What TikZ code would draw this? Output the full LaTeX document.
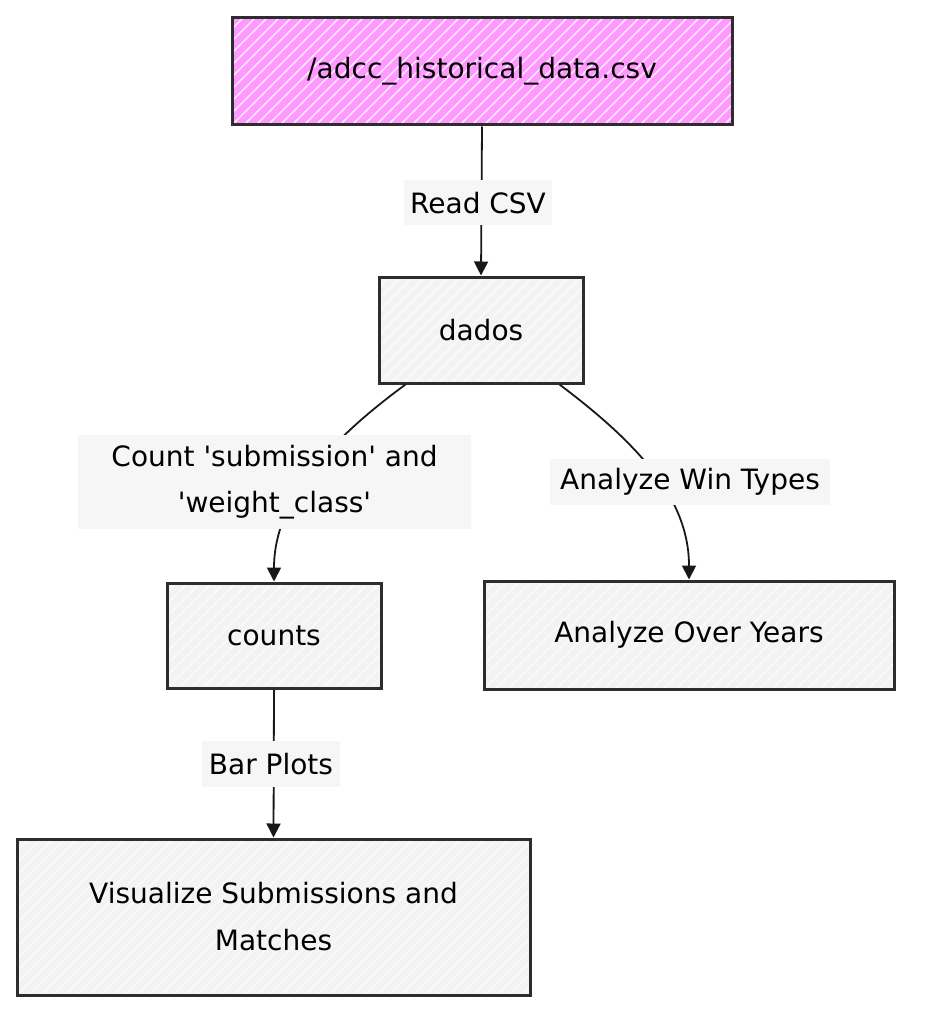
\documentclass[tikz,border=0pt]{standalone}
\usepackage{fontspec}
\newfontfamily\djv{DejaVu Sans}
\usetikzlibrary{arrows.meta,calc}
\definecolor{pinkfill}{RGB}{255,153,255}
\definecolor{grayfill}{RGB}{243,243,243}
\definecolor{labelbg}{RGB}{246,246,246}
\definecolor{ink}{RGB}{45,45,45}
\tikzset{
  hach/.style={path picture={
    \foreach \i in {-15,...,60}{
      \draw[white,line width=1.1pt,opacity=#1]
        ($(path picture bounding box.south west)+(\i*12pt,0)$) -- ++(220pt,220pt);}}},
  box/.style={draw=ink,line width=3pt,fill=grayfill,hach=0.7,align=center,
    font=\djv\fontsize{28}{47}\selectfont,inner sep=0pt},
  pinkbox/.style={box,fill=pinkfill,hach=0.9},
  elabel/.style={fill=labelbg,align=center,font=\djv\fontsize{28}{46}\selectfont,inner sep=0pt},
  conn/.style={draw=black!90,line width=1.8pt,-{Triangle[length=14pt,width=14pt]}}
}
\begin{document}
\begin{tikzpicture}[x=1pt,y=-1pt]
\useasboundingbox[fill=white] (0,0) rectangle (928,1032);
% nodes
\node[pinkbox,minimum width=500pt,minimum height=107pt] (csv) at (482,71.5) {/adcc\_historical\_data.csv};
\node[box,minimum width=204pt,minimum height=106pt] (dados) at (481,330) {dados};
\node[box,minimum width=214pt,minimum height=105pt] (counts) at (274,635.5) {counts};
\node[box,minimum width=410pt,minimum height=108pt] (years) at (689,635) {Analyze Over Years};
\node[box,minimum width=513pt,minimum height=156pt] (vis) at (273.5,917) {Visualize Submissions and\\Matches};
% connectors
\draw[conn] (csv.south) -- (dados.north);
\draw[conn] ($(dados.south west)+(28pt,0)$) .. controls (330,440) and (274,500) .. (counts.north);
\draw[conn] ($(dados.south east)+(-25pt,0)$) .. controls (640,445) and (689,500) .. (years.north);
\draw[conn] (counts.south) -- (vis.north);
% labels
\node[elabel,minimum width=148pt,minimum height=45pt] (l1) at (478,203) {Read CSV};
\node[elabel,minimum width=393pt,minimum height=94pt] (l2) at (274.5,482) {Count 'submission' and\\'weight\_class'};
\node[elabel,minimum width=280pt,minimum height=46pt] (l3) at (690,482) {Analyze Win Types};
\node[elabel,minimum width=138pt,minimum height=46pt] (l4) at (271,764) {Bar Plots};
\end{tikzpicture}
\end{document}
